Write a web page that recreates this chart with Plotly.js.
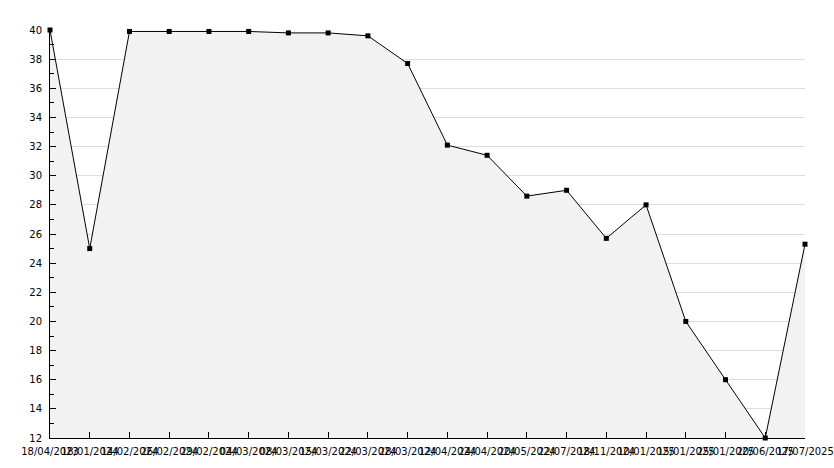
<!DOCTYPE html>
<html><head><meta charset="utf-8">
<script src="https://cdn.plot.ly/plotly-3.0.1.min.js"></script>
<style>html,body{margin:0;padding:0;background:#fff}#c{width:834px;height:468px}</style>
</head><body><div id="c"></div>
<script>
const dates = ["18/04/2023","18/01/2024","14/02/2024","26/02/2024","29/02/2024","04/03/2024","08/03/2024","15/03/2024","22/03/2024","28/03/2024","12/04/2024","24/04/2024","20/05/2024","22/07/2024","18/11/2024","10/01/2025","15/01/2025","25/01/2025","20/06/2025","17/07/2025"];
const values = [40, 25.0, 39.9, 39.9, 39.9, 39.9, 39.8, 39.8, 39.6, 37.7, 32.1, 31.4, 28.6, 29.0, 25.7, 28.0, 20.0, 16.0, 12.0, 25.3];
const yTicks = [12,14,16,18,20,22,24,26,28,30,32,34,36,38,40];

const trace = {
  x: dates.map((d,i)=>i), y: values, type:'scatter', mode:'lines+markers',
  fill:'tozeroy', fillcolor:'#f2f2f2',
  line:{color:'#000', width:1},
  marker:{color:'#000', size:5, symbol:'square'},
  cliponaxis:false, hoverinfo:'skip'
};
const layout = {
  width:834, height:468,
  margin:{l:50, r:29, t:30, b:30},
  paper_bgcolor:'#fff', plot_bgcolor:'#fff',
  showlegend:false,
  font:{family:'DejaVu Sans', size:10, color:'#000'},
  xaxis:{
    range:[0, dates.length-1], tickmode:'array', tickvals:dates.map((d,i)=>i), ticktext:dates,
    showgrid:false, zeroline:false, showline:true, linecolor:'#000', linewidth:1,
    ticks:'inside', ticklen:6, tickcolor:'#000', tickangle:0, ticklabelstandoff:4,
    tickfont:{family:'DejaVu Sans', size:10, color:'#000'}
  },
  yaxis:{
    range:[12,40], tickmode:'array', tickvals:yTicks,
    showgrid:true, gridcolor:'#dcdcdc', gridwidth:1, zeroline:false,
    showline:true, linecolor:'#000', linewidth:1,
    ticks:'inside', ticklen:6, tickcolor:'#000', ticklabelstandoff:5,
    minor:{dtick:1, tick0:0, ticks:'inside', ticklen:4, tickcolor:'#000', showgrid:false},
    tickfont:{family:'DejaVu Sans', size:10, color:'#000'}
  }
};
Plotly.newPlot('c', [trace], layout, {staticPlot:true, displayModeBar:false});
</script></body></html>
